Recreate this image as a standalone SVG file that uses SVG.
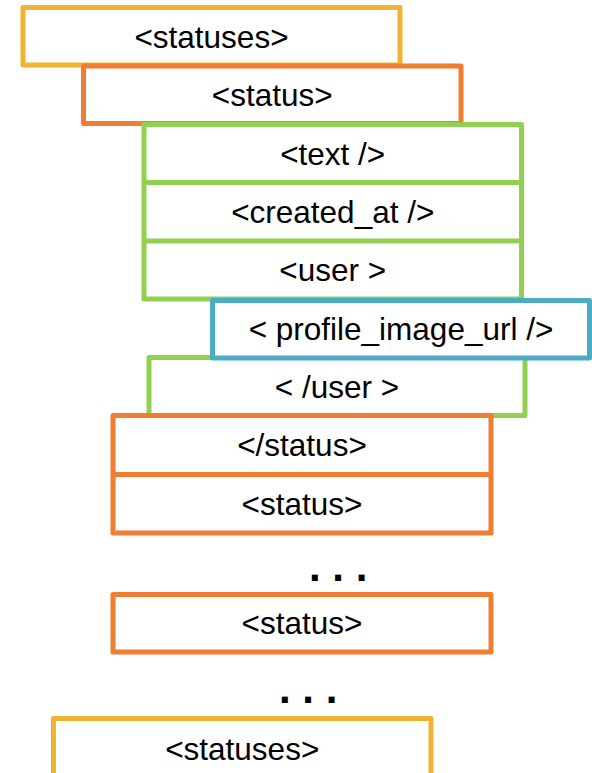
<svg xmlns="http://www.w3.org/2000/svg" width="592" height="773" viewBox="0 0 592 773">
<defs>
<style>
.box{fill:#FFFFFF;stroke-width:5;stroke-linejoin:round}
.gold{stroke:#F0B432}
.orange{stroke:#F07D32}
.green{stroke:#92D050}
.blue{stroke:#4BACC6}
.div{fill:none;stroke-width:5}
.lbl{font-family:"Liberation Sans",Arial,sans-serif;font-size:31.5px;fill:#000000;text-anchor:middle}
.dots{font-family:"Liberation Sans",Arial,sans-serif;font-size:42px;font-weight:bold;fill:#000000}
</style>
</defs>
<rect width="592" height="773" fill="#FFFFFF"/>
<g id="statuses-open">
<rect class="box gold" x="23" y="7.5" width="377" height="57.5"/>
<text class="lbl" x="211.5" y="47.5">&lt;statuses&gt;</text>
</g>
<g id="status-open">
<rect class="box orange" x="83.5" y="66" width="377.5" height="57.5"/>
<text class="lbl" x="272.25" y="105.5">&lt;status&gt;</text>
</g>
<g id="user-fields">
<rect class="box green" x="144" y="124.5" width="377.5" height="174.5"/>
<line class="div green" x1="144" y1="182.5" x2="521.5" y2="182.5"/>
<line class="div green" x1="144" y1="241" x2="521.5" y2="241"/>
<text class="lbl" x="332.75" y="164.5">&lt;text /&gt;</text>
<text class="lbl" x="332.75" y="222.75">&lt;created_at /&gt;</text>
<text class="lbl" x="332.75" y="281">&lt;user &gt;</text>
</g>
<g id="user-close">
<rect class="box green" x="149" y="357.5" width="376" height="58"/>
<text class="lbl" x="337" y="397.5">&lt; /user &gt;</text>
</g>
<g id="profile-image-url">
<rect class="box blue" x="212.5" y="300.5" width="377" height="57.5"/>
<text class="lbl" x="401" y="340">&lt; profile_image_url /&gt;</text>
</g>
<g id="status-close-open">
<rect class="box orange" x="113" y="415.5" width="378" height="117.5"/>
<line class="div orange" x1="113" y1="474.5" x2="491" y2="474.5"/>
<text class="lbl" x="302" y="456">&lt;/status&gt;</text>
<text class="lbl" x="302" y="514.5">&lt;status&gt;</text>
</g>
<g id="ellipsis-1">
<text class="dots" x="309" y="580.5">. . .</text>
</g>
<g id="status-last">
<rect class="box orange" x="113" y="594.5" width="378" height="57.5"/>
<text class="lbl" x="302" y="634">&lt;status&gt;</text>
</g>
<g id="ellipsis-2">
<text class="dots" x="279" y="703">. . .</text>
</g>
<g id="statuses-bottom">
<rect class="box gold" x="53.5" y="718.5" width="377.5" height="60"/>
<text class="lbl" x="242.25" y="759.5">&lt;statuses&gt;</text>
</g>
<g id="connectors"/>
</svg>
